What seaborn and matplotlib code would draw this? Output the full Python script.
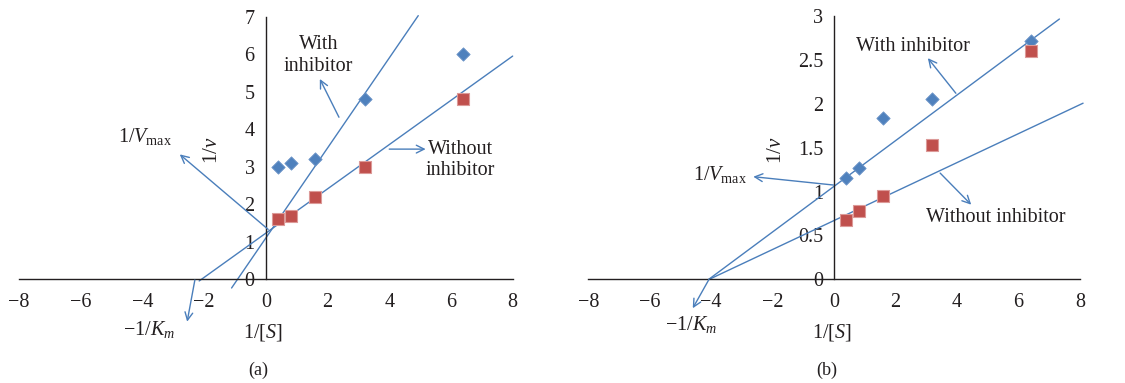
import numpy as np
import pandas as pd
import matplotlib
matplotlib.use("Agg")
import matplotlib.pyplot as plt
import seaborn as sns

# Lineweaver-Burk data: 1/[S] against 1/v
inv_s = [0.4, 0.8, 1.6, 3.2, 6.4]

a_with = [3.0, 3.1, 3.2, 4.8, 6.0]
a_without = [1.6, 1.7, 2.2, 3.0, 4.8]
b_with = [1.15, 1.27, 1.84, 2.05, 2.71]
b_without = [0.67, 0.78, 0.95, 1.53, 2.6]

# double-reciprocal trend lines: intercept, slope, x range
a_line_with = (1.10, 1.20, -1.11, 4.94)
a_line_without = (1.23, 0.59, -2.16, 8.0)
b_line_with = (1.06, 0.26, -4.07, 7.33)
b_line_without = (0.67, 0.165, -4.07, 8.1)

a_yticks = [0, 1, 2, 3, 4, 5, 6, 7]
b_yticks = [0, 0.5, 1, 1.5, 2, 2.5, 3]
b_yticklabels = ["0", "0.5", "1", "1.5", "2", "2.5", "3"]
xticks = [-8, -6, -4, -2, 0, 2, 4, 6, 8]

sns.set_style("white")
TXT = "#231f20"
plt.rcParams["font.family"] = ["Liberation Serif", "DejaVu Serif"]
plt.rcParams["mathtext.fontset"] = "custom"
plt.rcParams["mathtext.rm"] = "Liberation Serif"
plt.rcParams["mathtext.it"] = "Liberation Serif:italic"
plt.rcParams["axes.unicode_minus"] = True
plt.rcParams["text.color"] = TXT
plt.rcParams["xtick.color"] = TXT
plt.rcParams["ytick.color"] = TXT

FS = 14.5
LINE_C = "#4a7ebb"
BLUE = "#4f81bd"
RED = "#c0504d"

fig = plt.figure(figsize=(11.25, 3.83), dpi=100)
ax_a = fig.add_axes([0.01689, 0.2708, 0.4388, 0.6856])
ax_b = fig.add_axes([0.5229, 0.2708, 0.4371, 0.6874])


def trend(ax, params):
    b0, m, x0, x1 = params
    xs = np.array([x0, x1])
    df = pd.DataFrame({"x": xs, "y": b0 + m * xs})
    sns.lineplot(data=df, x="x", y="y", ax=ax, color=LINE_C, lw=1.0,
                 clip_on=False, zorder=2)


def points(ax, ys_with, ys_without):
    dw = pd.DataFrame({"x": inv_s, "y": ys_with})
    do = pd.DataFrame({"x": inv_s, "y": ys_without})
    sns.scatterplot(data=dw, x="x", y="y", ax=ax, marker="D", s=46,
                    color=BLUE, edgecolor="#6d95c8", linewidth=0.6,
                    zorder=3, clip_on=False)
    sns.scatterplot(data=do, x="x", y="y", ax=ax, marker="s", s=82,
                    color=RED, edgecolor="#dc9a98", linewidth=0.8,
                    zorder=3, clip_on=False)


def style_axes(ax, ymax, yticks, yticklabels=None):
    ax.set_xlim(-8, 8)
    ax.set_ylim(0, ymax)
    ax.spines["left"].set_position(("data", 0))
    ax.spines["bottom"].set_position(("data", 0))
    for s in ("top", "right"):
        ax.spines[s].set_visible(False)
    for s in ("left", "bottom"):
        ax.spines[s].set_color(TXT)
        ax.spines[s].set_linewidth(1.0)
    ax.set_xticks(xticks)
    ax.set_xticklabels([f"{v:d}".replace("-", "\u2212") for v in xticks])
    ax.set_yticks(yticks)
    if yticklabels is not None:
        ax.set_yticklabels(yticklabels)
    ax.tick_params(axis="both", direction="out", length=5, width=1,
                   color=TXT, labelsize=FS, pad=3)
    ax.tick_params(axis="x", pad=5)
    ax.set_xlabel("")
    ax.set_ylabel("")
    ax.patch.set_alpha(0)


def arrow(ax, tail, head, **kw):
    ax.annotate("", xy=head, xytext=tail, xycoords="data",
                textcoords="data", annotation_clip=False,
                arrowprops=dict(arrowstyle="->", color=LINE_C, lw=1.0,
                                mutation_scale=14, shrinkA=0, shrinkB=0))


# ---- panel (a)
trend(ax_a, a_line_with)
trend(ax_a, a_line_without)
points(ax_a, a_with, a_without)
style_axes(ax_a, 7, a_yticks)

arrow(ax_a, (0.075, 1.33), (-2.79, 3.33))
ax_a.text(-3.9, 3.8, r"$1/V_{\mathrm{max}}$", fontsize=FS, ha="center",
          va="center")
arrow(ax_a, (-2.30, -0.02), (-2.55, -1.13))
ax_a.text(-3.8, -1.35, r"$-1/K_m$", fontsize=FS, ha="center", va="center")
arrow(ax_a, (2.37, 4.32), (1.75, 5.34))
ax_a.text(1.7, 5.97, "With\ninhibitor", fontsize=FS, ha="center",
          va="center", linespacing=1.2)
arrow(ax_a, (4.0, 3.47), (5.18, 3.47))
ax_a.text(6.3, 3.18, "Without\ninhibitor", fontsize=FS, ha="center",
          va="center", linespacing=1.15)

ax_a.text(-1.72, 3.45, r"$1/v$", fontsize=FS + 0.5, rotation=90,
          ha="center", va="center")
ax_a.text(-0.1, -1.43, r"$1/[S]$", fontsize=FS, ha="center", va="center")

# ---- panel (b)
trend(ax_b, b_line_with)
trend(ax_b, b_line_without)
points(ax_b, b_with, b_without)
style_axes(ax_b, 3, b_yticks, b_yticklabels)

arrow(ax_b, (-0.02, 1.074), (-2.63, 1.169))
ax_b.text(-3.7, 1.19, r"$1/V_{\mathrm{max}}$", fontsize=FS, ha="center",
          va="center")
arrow(ax_b, (-4.07, 0.0), (-4.6, -0.33))
ax_b.text(-4.67, -0.52, r"$-1/K_m$", fontsize=FS, ha="center",
          va="center")
arrow(ax_b, (3.96, 2.12), (3.05, 2.52))
ax_b.text(2.58, 2.65, "With inhibitor", fontsize=FS, ha="center",
          va="center")
arrow(ax_b, (3.45, 1.21), (4.46, 0.85))
ax_b.text(5.27, 0.70, "Without inhibitor", fontsize=FS, ha="center",
          va="center")

ax_b.text(-1.86, 1.47, r"$1/v$", fontsize=FS + 0.5, rotation=90,
          ha="center", va="center")
ax_b.text(-0.07, -0.61, r"$1/[S]$", fontsize=FS, ha="center", va="center")

fig.text(258 / 1125, 1 - 370 / 383, "(a)", fontsize=13, ha="center",
         va="center")
fig.text(827 / 1125, 1 - 370 / 383, "(b)", fontsize=13, ha="center",
         va="center")

fig.savefig("out.png", dpi=100, facecolor="white")
